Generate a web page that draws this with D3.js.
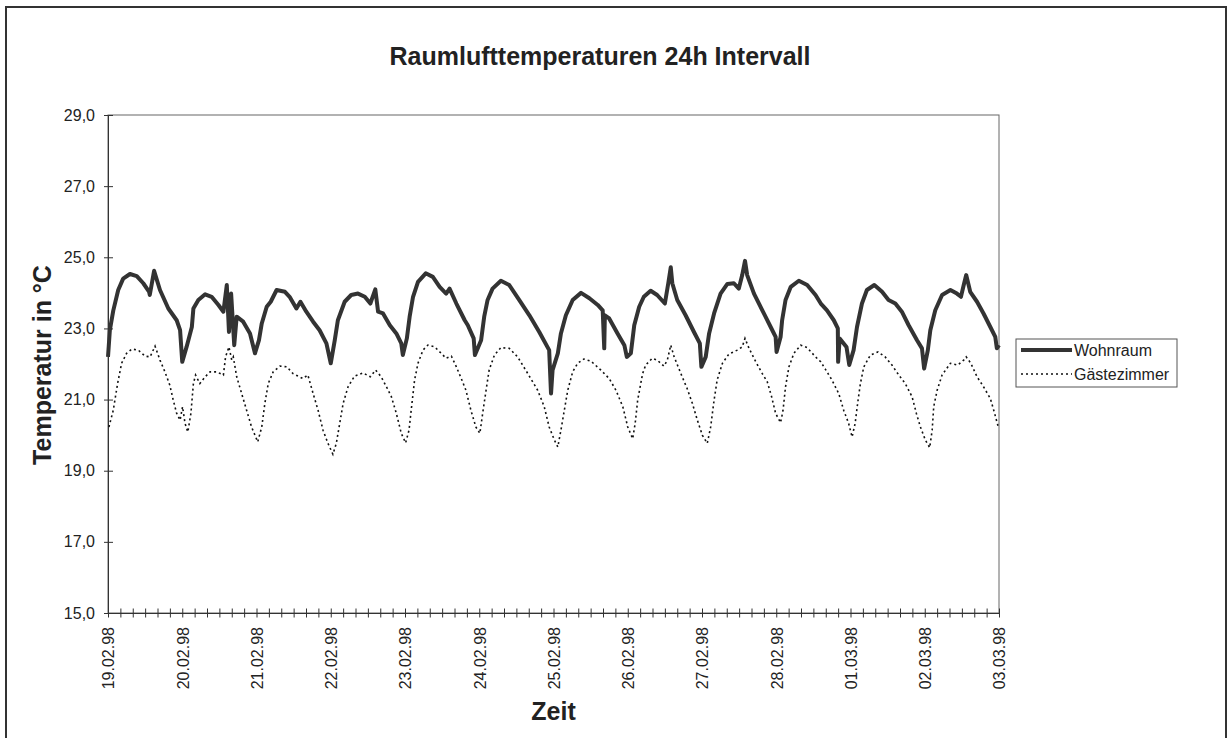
<!DOCTYPE html>
<meta charset="utf-8">
<script src="https://d3js.org/d3.v7.js"></script>
<style>
  body { margin: 0; background: #fff; }
  text { font-family: "Liberation Sans", Arial, sans-serif; fill: #222; }
</style>
<body>
<div id="chart"></div>
<script>
// hours since 19.02.98 00:00
const hoursW = [0,0.6,1.7,3.3,4.9,7.1,9.3,11.4,13.3,13.5,14.9,16.8,19.5,22.2,23.3,24.0,25.4,27.1,27.6,29.2,31.4,33.5,35.7,37.3,38.4,39.1,39.8,40.8,41.6,43.7,45.9,47.5,48.8,49.7,51.3,52.6,54.5,57.2,58.7,60.9,62.2,64.1,66.3,68.4,70.6,72.0,73.3,74.3,76.5,78.6,80.8,83.0,84.8,86.4,87.3,88.9,91.1,93.2,94.8,95.3,96.6,97.5,98.6,100.2,102.7,105.0,107.2,109.3,110.4,112.6,115.3,116.3,118.2,118.6,120.6,121.6,122.7,124.3,127.0,129.7,132.9,136.2,139.4,142.6,143.2,143.7,145.4,146.4,148.0,150.2,152.9,155.6,158.3,159.9,160.4,160.6,162.0,164.7,166.9,167.7,169.0,170.1,171.7,173.2,175.4,177.5,180.0,181.1,181.9,182.4,184.0,186.7,189.4,191.3,191.8,193.2,194.3,195.9,198.0,200.2,202.3,203.9,205.0,205.9,206.6,208.8,211.5,214.2,215.8,216.1,217.4,217.9,219.0,220.7,223.3,226.0,228.7,230.4,232.4,234.6,235.9,236.0,236.5,238.7,239.6,241.0,242.1,243.7,245.3,247.7,250.2,252.3,254.5,256.6,258.8,261.5,263.1,263.8,265.0,265.8,267.4,269.6,272.3,274.4,275.7,276.6,277.4,278.7,280.9,283.0,285.2,286.8,287.3,288];
const tempW = [22.2,22.95,23.5,24.08,24.4,24.53,24.47,24.27,24.03,23.94,24.62,24.08,23.56,23.23,22.95,22.06,22.48,23.04,23.56,23.8,23.96,23.89,23.66,23.47,24.22,22.9,23.98,22.53,23.33,23.19,22.86,22.3,22.67,23.14,23.61,23.75,24.08,24.03,23.89,23.56,23.75,23.47,23.19,22.95,22.58,22.02,22.67,23.23,23.75,23.94,23.98,23.89,23.7,24.1,23.47,23.42,23.09,22.86,22.58,22.25,22.72,23.33,23.89,24.31,24.55,24.45,24.17,23.98,24.12,23.7,23.23,23.09,22.72,22.25,22.67,23.33,23.8,24.12,24.34,24.22,23.8,23.37,22.9,22.39,21.17,21.83,22.3,22.86,23.37,23.8,24.0,23.85,23.66,23.51,22.44,23.37,23.28,22.86,22.53,22.2,22.3,23.09,23.61,23.89,24.06,23.94,23.7,24.27,24.72,24.27,23.8,23.37,22.9,22.58,21.92,22.2,22.86,23.42,23.98,24.25,24.27,24.12,24.5,24.9,24.5,23.98,23.51,23.04,22.76,22.34,22.76,23.23,23.8,24.17,24.34,24.22,23.94,23.7,23.51,23.23,23.0,22.06,22.72,22.48,21.97,22.39,23.04,23.7,24.08,24.22,24.03,23.8,23.7,23.47,23.09,22.67,22.44,21.87,22.39,22.95,23.51,23.94,24.08,23.98,23.89,24.22,24.5,24.03,23.75,23.42,23.04,22.76,22.44,22.53];

const hoursG = [0.3,1.7,3.1,4.4,6.0,7.7,9.8,12.0,13.6,15.2,16.8,18.4,20.0,21.1,22.2,23.3,24.1,24.9,25.8,26.8,27.6,28.3,29.7,31.4,33.0,35.1,37.3,38.0,39.1,40.0,40.5,41.6,43.2,44.8,46.4,48.4,49.7,50.7,51.8,53.4,55.6,57.8,59.8,63.0,64.6,66.3,67.9,69.5,71.1,72.7,73.8,74.9,76.0,77.6,79.7,82.4,84.8,86.5,88.3,90.0,91.6,93.2,94.8,96.2,97.3,98.0,99.1,100.2,101.8,103.4,105.6,107.7,109.3,111.0,112.6,114.2,115.7,117.3,118.9,120.2,121.1,122.2,123.2,124.9,127.0,129.7,132.4,135.7,138.9,141.0,142.6,144.3,145.4,146.4,147.5,148.6,150.2,151.8,153.8,156.1,159.3,162.0,164.2,166.4,168.0,169.6,170.4,171.2,172.8,173.8,175.9,177.5,179.7,180.8,181.9,183.0,184.3,185.6,187.2,188.9,190.5,192.1,193.7,194.8,195.9,196.9,198.6,200.7,203.4,205.0,205.9,207.2,209.4,211.5,213.1,214.5,215.8,217.4,218.2,219.0,220.1,221.7,223.9,226.0,228.7,230.4,231.9,234.0,236.2,237.8,239.4,240.5,241.5,242.3,243.2,244.3,246.4,248.9,251.2,253.4,255.6,257.7,259.9,261.3,262.6,264.2,265.6,266.4,266.9,268.0,269.6,272.3,274.7,276.6,277.4,278.9,280.9,283.0,285.2,286.3,287.9];
const tempG = [20.23,20.7,21.45,22.02,22.3,22.42,22.39,22.22,22.2,22.5,22.11,21.78,21.4,20.98,20.61,20.42,20.8,20.33,20.09,20.61,21.45,21.69,21.45,21.64,21.78,21.78,21.69,22.2,22.48,22.11,22.2,21.64,21.17,20.7,20.23,19.81,20.23,20.89,21.45,21.78,21.94,21.92,21.73,21.59,21.69,21.17,20.7,20.14,19.77,19.46,19.77,20.33,20.89,21.36,21.66,21.75,21.64,21.83,21.64,21.36,21.08,20.61,20.05,19.78,20.14,20.7,21.55,22.02,22.39,22.53,22.48,22.3,22.16,22.22,21.92,21.59,21.26,20.7,20.23,20.05,20.61,21.26,21.83,22.25,22.46,22.44,22.2,21.73,21.26,20.8,20.23,19.86,19.67,20.14,20.7,21.26,21.78,22.02,22.14,22.08,21.83,21.59,21.26,20.8,20.23,19.9,20.33,20.98,21.73,21.97,22.16,22.11,21.94,22.11,22.53,22.2,21.92,21.64,21.31,20.89,20.42,20.0,19.77,20.23,20.98,21.55,22.02,22.28,22.39,22.48,22.72,22.44,22.06,21.73,21.5,21.08,20.61,20.35,20.7,21.36,21.92,22.3,22.53,22.46,22.2,22.06,21.85,21.55,21.17,20.7,20.33,19.95,20.33,20.89,21.45,21.92,22.25,22.34,22.2,21.97,21.69,21.45,21.08,20.61,20.23,19.86,19.65,20.14,20.8,21.26,21.69,22.02,21.97,22.11,22.2,22.02,21.64,21.36,21.03,20.7,20.19];

const dayLabels = ["19.02.98","20.02.98","21.02.98","22.02.98","23.02.98","24.02.98","25.02.98","26.02.98","27.02.98","28.02.98","01.03.98","02.03.98","03.03.98"];
const yTicks = [15, 17, 19, 21, 23, 25, 27, 29];
const seriesNames = ["Wohnraum", "Gästezimmer"];

const width = 1232, height = 738;
const plot = {left: 108, top: 115, right: 999, bottom: 613};

const svg = d3.select("#chart")
  .append("svg")
    .attr("width", width)
    .attr("height", height);

// outer frame
svg.append("rect")
  .attr("x", 6).attr("y", 7)
  .attr("width", 1220).attr("height", 745)
  .attr("fill", "white")
  .attr("stroke", "#333")
  .attr("stroke-width", 2);

const x = d3.scaleLinear().domain([0, 288]).range([plot.left, plot.right]);
const y = d3.scaleLinear().domain([15, 29]).range([plot.bottom, plot.top]);

// plot box
svg.append("rect")
  .attr("x", x(0)).attr("y", y(29))
  .attr("width", x(288) - x(0)).attr("height", y(15) - y(29))
  .attr("fill", "none")
  .attr("stroke", "#666")
  .attr("stroke-width", 1);

const comma = d3.formatLocale({decimal: ",", thousands: ".", grouping: [3], currency: ["", "€"]}).format(".1f");

const yAxis = svg.append("g")
  .attr("transform", `translate(${x(0)},0)`)
  .call(d3.axisLeft(y).tickValues(yTicks).tickSize(4).tickSizeOuter(0).tickPadding(9).tickFormat(comma));
yAxis.selectAll(".tick line").attr("x1", 5).attr("stroke", "#333");
yAxis.select(".domain").attr("stroke", "#333");
yAxis.selectAll("text").style("font-size", "16px").attr("fill", "#222");

const xAxis = svg.append("g")
  .attr("transform", `translate(0,${y(15)})`)
  .call(d3.axisBottom(x)
    .tickValues(d3.range(0, 289, 4))
    .tickSize(4.5)
    .tickSizeOuter(0)
    .tickFormat(h => h % 24 === 0 ? dayLabels[h / 24] : ""));
xAxis.selectAll(".tick line").attr("y1", -4.5).attr("stroke", "#333");
xAxis.select(".domain").attr("stroke", "#333");
xAxis.selectAll("text")
  .style("font-size", "16px")
  .attr("fill", "#222")
  .attr("transform", "rotate(-90)")
  .attr("text-anchor", "end")
  .attr("x", -14)
  .attr("y", 0)
  .attr("dy", "0.36em");

const line = d3.line()
  .x(d => x(d[0]))
  .y(d => y(d[1]));

svg.append("path")
  .datum(d3.zip(hoursG, tempG))
  .attr("d", line)
  .attr("fill", "none")
  .attr("stroke", "#111")
  .attr("stroke-width", 1.6)
  .attr("stroke-dasharray", "2,3");

svg.append("path")
  .datum(d3.zip(hoursW, tempW))
  .attr("d", line)
  .attr("fill", "none")
  .attr("stroke", "#333")
  .attr("stroke-width", 4)
  .attr("stroke-linejoin", "round");

// titles
svg.append("text")
  .attr("x", 600).attr("y", 65)
  .attr("text-anchor", "middle")
  .style("font-size", "25px").style("font-weight", "bold")
  .text("Raumlufttemperaturen 24h Intervall");

svg.append("text")
  .attr("transform", "translate(51,365) rotate(-90)")
  .attr("text-anchor", "middle")
  .style("font-size", "25px").style("font-weight", "bold")
  .text("Temperatur in °C");

svg.append("text")
  .attr("x", (plot.left + plot.right) / 2).attr("y", 720)
  .attr("text-anchor", "middle")
  .style("font-size", "25px").style("font-weight", "bold")
  .text("Zeit");

// legend
const legend = svg.append("g");
legend.append("rect")
  .attr("x", 1016).attr("y", 339)
  .attr("width", 161).attr("height", 48)
  .attr("fill", "white")
  .attr("stroke", "#555");

const legendY = [350, 374];
legend.selectAll("line.key")
  .data(seriesNames)
  .join("line")
    .attr("class", "key")
    .attr("x1", 1021).attr("x2", 1072)
    .attr("y1", (d, i) => legendY[i]).attr("y2", (d, i) => legendY[i])
    .attr("stroke", (d, i) => i === 0 ? "#333" : "#111")
    .attr("stroke-width", (d, i) => i === 0 ? 4 : 1.6)
    .attr("stroke-dasharray", (d, i) => i === 0 ? null : "2,3");

legend.selectAll("text")
  .data(seriesNames)
  .join("text")
    .attr("x", 1074)
    .attr("y", (d, i) => legendY[i])
    .attr("dy", "0.36em")
    .style("font-size", "16px")
    .text(d => d);
</script>
</body>
